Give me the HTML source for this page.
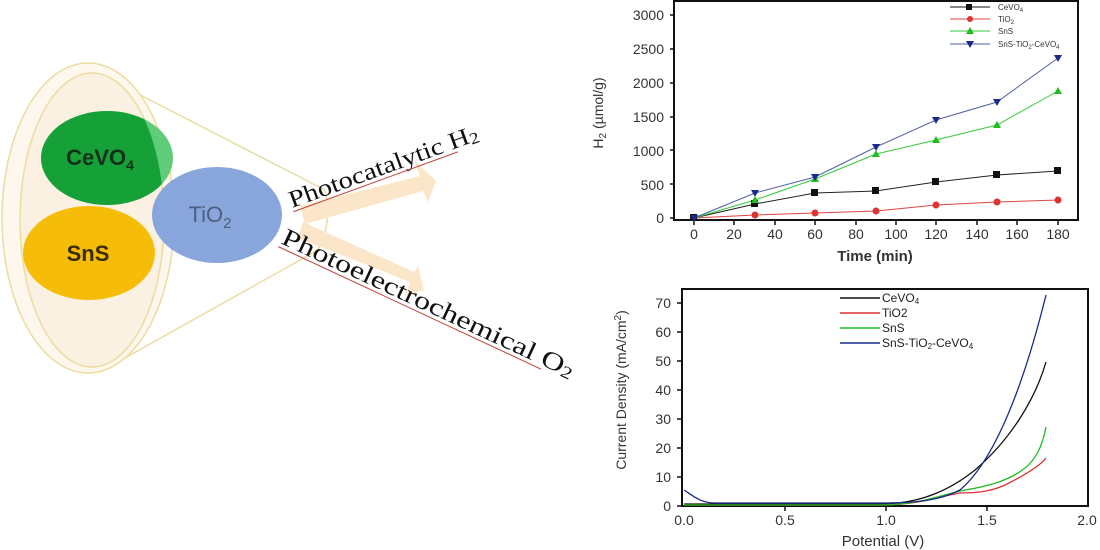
<!DOCTYPE html>
<html><head><meta charset="utf-8"><style>
html,body{margin:0;padding:0;background:#fff}
svg{display:block}
.s{font-family:"Liberation Sans",sans-serif}
.r{font-family:"Liberation Serif",serif}
</style></head><body>
<svg width="1100" height="550" viewBox="0 0 1100 550" xmlns="http://www.w3.org/2000/svg" class="s">
<!-- Left diagram -->
<path d="M80,64 L325,190 Q333,220 318,250 L100,372" fill="none" stroke="#ecdca0" stroke-width="1.5"/>
<ellipse cx="88" cy="218" rx="86" ry="155" fill="#fdf7ee" stroke="#ecdca0" stroke-width="1.5"/>
<ellipse cx="92" cy="220" rx="72" ry="147" fill="#fbf1e2" stroke="#ecdca0" stroke-width="1.5"/>
<defs><clipPath id="inner"><ellipse cx="92" cy="220" rx="72" ry="147"/></clipPath></defs>
<ellipse cx="107" cy="158" rx="66" ry="47" fill="#5fcc7a"/>
<ellipse cx="107" cy="158" rx="66" ry="47" fill="#16a038" clip-path="url(#inner)"/>
<text x="100" y="165" font-size="22" font-weight="bold" fill="#143018" text-anchor="middle">CeVO<tspan font-size="14" dy="5">4</tspan></text>
<ellipse cx="89" cy="253" rx="66" ry="47" fill="#f6bd08"/>
<text x="88" y="261" font-size="22" font-weight="bold" fill="#3a2a05" text-anchor="middle">SnS</text>
<ellipse cx="217" cy="215" rx="65" ry="48" fill="#88a6dc"/>
<text x="210" y="222" font-size="22" fill="#4e5e7e" text-anchor="middle">TiO<tspan font-size="15" dy="6">2</tspan></text>
<!-- arrows -->
<polygon points="300,206 420,176 414,160 436,181 428,202 423,191 305,224" fill="#fbe6c9"/>
<polygon points="298,238 410,282 405,296 424,290 418,266 414,272 303,222" fill="#fbe6c9"/>
<g transform="translate(292,208) rotate(-20)">
<text x="0" y="0" class="r" font-size="24" fill="#111" textLength="200" lengthAdjust="spacingAndGlyphs">Photocatalytic H<tspan font-size="16" dy="2">2</tspan></text>
<line x1="0" y1="4" x2="175" y2="4" stroke="#c0403a" stroke-width="1"/>
</g>
<g transform="translate(280,243) rotate(25)">
<text x="0" y="0" class="r" font-size="25" fill="#111" textLength="320" lengthAdjust="spacingAndGlyphs">Photoelectrochemical O<tspan font-size="17" dy="2">2</tspan></text>
<line x1="0" y1="4" x2="290" y2="4" stroke="#c0403a" stroke-width="1"/>
</g>

<!-- Top chart -->
<rect x="674" y="1" width="404" height="219" fill="none" stroke="#111" stroke-width="2"/>
<g font-size="14" fill="#333" text-anchor="end">
<text x="664" y="20">3000</text><text x="664" y="54">2500</text><text x="664" y="88">2000</text>
<text x="664" y="122">1500</text><text x="664" y="156">1000</text><text x="664" y="190">500</text><text x="664" y="223">0</text>
</g>
<g stroke="#111" stroke-width="1.5">
<line x1="670" y1="15" x2="674" y2="15"/><line x1="670" y1="49" x2="674" y2="49"/><line x1="670" y1="83" x2="674" y2="83"/><line x1="670" y1="117" x2="674" y2="117"/><line x1="670" y1="150" x2="674" y2="150"/><line x1="670" y1="184" x2="674" y2="184"/><line x1="670" y1="218" x2="674" y2="218"/>
<line x1="694" y1="220" x2="694" y2="225"/><line x1="734" y1="220" x2="734" y2="225"/><line x1="775" y1="220" x2="775" y2="225"/><line x1="815" y1="220" x2="815" y2="225"/><line x1="856" y1="220" x2="856" y2="225"/><line x1="896" y1="220" x2="896" y2="225"/><line x1="936" y1="220" x2="936" y2="225"/><line x1="977" y1="220" x2="977" y2="225"/><line x1="1017" y1="220" x2="1017" y2="225"/><line x1="1058" y1="220" x2="1058" y2="225"/>
</g>
<g font-size="14" fill="#333" text-anchor="middle">
<text x="694" y="239">0</text><text x="734" y="239">20</text><text x="775" y="239">40</text><text x="815" y="239">60</text><text x="856" y="239">80</text><text x="896" y="239">100</text><text x="936" y="239">120</text><text x="977" y="239">140</text><text x="1017" y="239">160</text><text x="1058" y="239">180</text>
</g>
<text x="875" y="261" font-size="15" fill="#333" text-anchor="middle" font-weight="bold">Time (min)</text>
<text transform="translate(603,113) rotate(-90)" font-size="14" fill="#333" text-anchor="middle">H<tspan font-size="10" dy="3">2</tspan><tspan dy="-3"> (µmol/g)</tspan></text>
<polyline points="694,218 755,204 815,193 876,191 936,182 997,175 1058,171" fill="none" stroke="#222" stroke-width="1"/>
<polyline points="694,218 755,215 815,213 876,211 936,205 997,202 1058,200" fill="none" stroke="#d44" stroke-width="1"/>
<polyline points="694,218 755,200 815,179 876,154 936,140 997,125 1058,91" fill="none" stroke="#3c3" stroke-width="1"/>
<polyline points="694,218 755,193 815,177 876,147 936,120 997,102 1058,58" fill="none" stroke="#5060a0" stroke-width="1"/>
<g fill="#111"><rect x="690" y="214" width="7" height="7"/><rect x="751" y="200" width="7" height="7"/><rect x="811" y="189" width="7" height="7"/><rect x="872" y="187" width="7" height="7"/><rect x="932" y="178" width="7" height="7"/><rect x="993" y="171" width="7" height="7"/><rect x="1054" y="167" width="7" height="7"/></g>
<g fill="#d33"><circle cx="755" cy="215" r="3.5"/><circle cx="815" cy="213" r="3.5"/><circle cx="876" cy="211" r="3.5"/><circle cx="936" cy="205" r="3.5"/><circle cx="997" cy="202" r="3.5"/><circle cx="1058" cy="200" r="3.5"/></g>
<g fill="#2b2"><polygon points="755,196 759,203 751,203"/><polygon points="815,175 819,182 811,182"/><polygon points="876,150 880,157 872,157"/><polygon points="936,136 940,143 932,143"/><polygon points="997,121 1001,128 993,128"/><polygon points="1058,87 1062,94 1054,94"/></g>
<g fill="#1a2a8a"><polygon points="690,215 698,215 694,222"/><polygon points="751,190 759,190 755,197"/><polygon points="811,174 819,174 815,181"/><polygon points="872,144 880,144 876,151"/><polygon points="932,117 940,117 936,124"/><polygon points="993,99 1001,99 997,106"/><polygon points="1054,55 1062,55 1058,62"/></g>
<g font-size="8" fill="#333">
<line x1="950" y1="7" x2="990" y2="7" stroke="#111"/><rect x="966" y="4" width="6" height="6" fill="#111"/><text x="998" y="10">CeVO<tspan font-size="6" dy="2">4</tspan></text>
<line x1="950" y1="19" x2="990" y2="19" stroke="#d44"/><circle cx="970" cy="19" r="3" fill="#d33"/><text x="998" y="22">TiO<tspan font-size="6" dy="2">2</tspan></text>
<line x1="950" y1="31" x2="990" y2="31" stroke="#3c3"/><polygon points="970,27 974,34 966,34" fill="#2b2"/><text x="998" y="34">SnS</text>
<line x1="950" y1="44" x2="990" y2="44" stroke="#5060a0"/><polygon points="966,41 974,41 970,48" fill="#1a2a8a"/><text x="998" y="47">SnS-TiO<tspan font-size="6" dy="2">2</tspan><tspan dy="-2">-CeVO</tspan><tspan font-size="6" dy="2">4</tspan></text>
</g>

<!-- Bottom chart -->
<rect x="682" y="289" width="406" height="217" fill="none" stroke="#111" stroke-width="2"/>
<g font-size="14" fill="#333" text-anchor="end">
<text x="671" y="308">70</text><text x="671" y="337">60</text><text x="671" y="366">50</text><text x="671" y="395">40</text><text x="671" y="424">30</text><text x="671" y="453">20</text><text x="671" y="482">10</text><text x="671" y="511">0</text>
</g>
<g stroke="#111" stroke-width="1.5">
<line x1="677" y1="303" x2="682" y2="303"/><line x1="677" y1="332" x2="682" y2="332"/><line x1="677" y1="361" x2="682" y2="361"/><line x1="677" y1="390" x2="682" y2="390"/><line x1="677" y1="419" x2="682" y2="419"/><line x1="677" y1="448" x2="682" y2="448"/><line x1="677" y1="477" x2="682" y2="477"/><line x1="677" y1="506" x2="682" y2="506"/>
<line x1="785" y1="506" x2="785" y2="511"/><line x1="886" y1="506" x2="886" y2="511"/><line x1="987" y1="506" x2="987" y2="511"/>
</g>
<g font-size="14" fill="#333" text-anchor="middle">
<text x="684" y="525">0.0</text><text x="785" y="525">0.5</text><text x="886" y="525">1.0</text><text x="987" y="525">1.5</text><text x="1087" y="525">2.0</text>
</g>
<text x="883" y="546" font-size="15" fill="#333" text-anchor="middle">Potential (V)</text>
<text transform="translate(626,390) rotate(-90)" font-size="14" fill="#333" text-anchor="middle">Current Density (mA/cm<tspan font-size="10" dy="-5">2</tspan><tspan dy="5">)</tspan></text>
<path d="M684,504 L880,504 C920,504 950,490 975,470 C1010,440 1035,400 1046,362" fill="none" stroke="#111" stroke-width="1.3"/>
<path d="M684,505 L880,505 C920,505 940,496 960,493 C975,493 990,492 1005,485 C1025,475 1040,466 1046,458" fill="none" stroke="#d33" stroke-width="1.3"/>
<path d="M684,505 L880,505 C920,505 940,495 965,490 C990,486 1010,480 1025,468 C1035,460 1042,448 1046,427" fill="none" stroke="#2b2" stroke-width="1.3"/>
<path d="M684,490 C692,495 700,503 715,503 L880,503 C920,503 940,500 960,490 C990,465 1020,400 1046,295" fill="none" stroke="#1a2a8a" stroke-width="1.3"/>
<g font-size="12" fill="#222">
<line x1="840" y1="298" x2="880" y2="298" stroke="#111" stroke-width="1.5"/><text x="882" y="302">CeVO<tspan font-size="8" dy="2">4</tspan></text>
<line x1="840" y1="313" x2="880" y2="313" stroke="#d33" stroke-width="1.5"/><text x="882" y="317">TiO2</text>
<line x1="840" y1="328" x2="880" y2="328" stroke="#2b2" stroke-width="1.5"/><text x="882" y="332">SnS</text>
<line x1="840" y1="343" x2="880" y2="343" stroke="#1a2a8a" stroke-width="1.5"/><text x="882" y="347">SnS-TiO<tspan font-size="8" dy="2">2</tspan><tspan dy="-2">-CeVO</tspan><tspan font-size="8" dy="2">4</tspan></text>
</g>
</svg>
</body></html>
